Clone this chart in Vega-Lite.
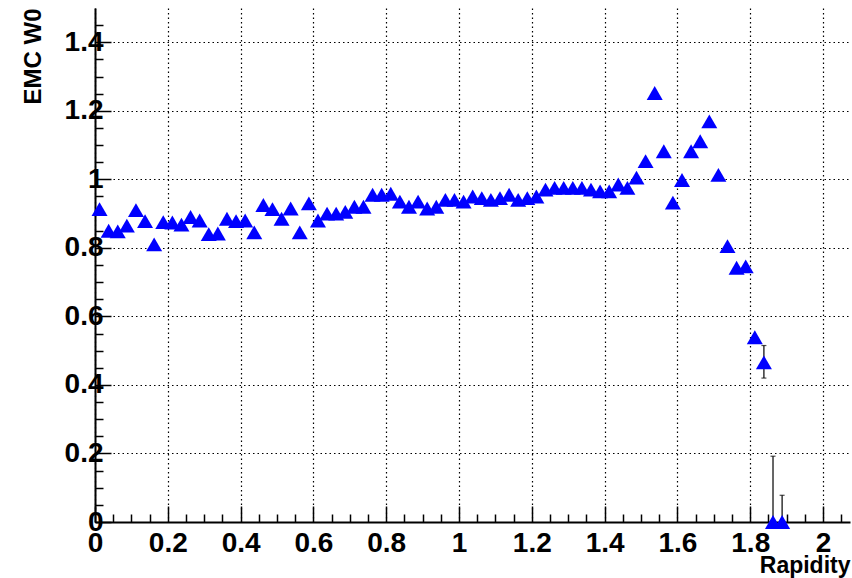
{
  "$schema": "https://vega.github.io/schema/vega-lite/v6.json",
  "width": 755,
  "height": 514,
  "autosize": {"type": "none"},
  "padding": {"left": 95, "top": 8, "right": 2, "bottom": 56},
  "background": "white",
  "config": {"view": {"stroke": null}},
  "data": {"values": [
    {"x": 0.0125, "y": 0.913}, {"x": 0.0375, "y": 0.85}, {"x": 0.0625, "y": 0.848}, {"x": 0.0875, "y": 0.865},
    {"x": 0.1125, "y": 0.91}, {"x": 0.1375, "y": 0.878}, {"x": 0.1625, "y": 0.81}, {"x": 0.1875, "y": 0.875},
    {"x": 0.2125, "y": 0.874}, {"x": 0.2375, "y": 0.868}, {"x": 0.2625, "y": 0.89}, {"x": 0.2875, "y": 0.88},
    {"x": 0.3125, "y": 0.84}, {"x": 0.3375, "y": 0.842}, {"x": 0.3625, "y": 0.885}, {"x": 0.3875, "y": 0.878},
    {"x": 0.4125, "y": 0.88}, {"x": 0.4375, "y": 0.845}, {"x": 0.4625, "y": 0.925}, {"x": 0.4875, "y": 0.913},
    {"x": 0.5125, "y": 0.885}, {"x": 0.5375, "y": 0.915}, {"x": 0.5625, "y": 0.845}, {"x": 0.5875, "y": 0.93},
    {"x": 0.6125, "y": 0.88}, {"x": 0.6375, "y": 0.9}, {"x": 0.6625, "y": 0.9}, {"x": 0.6875, "y": 0.905},
    {"x": 0.7125, "y": 0.92}, {"x": 0.7375, "y": 0.92}, {"x": 0.7625, "y": 0.955}, {"x": 0.7875, "y": 0.955},
    {"x": 0.8125, "y": 0.958}, {"x": 0.8375, "y": 0.935}, {"x": 0.8625, "y": 0.92}, {"x": 0.8875, "y": 0.935},
    {"x": 0.9125, "y": 0.915}, {"x": 0.9375, "y": 0.92}, {"x": 0.9625, "y": 0.94}, {"x": 0.9875, "y": 0.94},
    {"x": 1.0125, "y": 0.935}, {"x": 1.0375, "y": 0.95}, {"x": 1.0625, "y": 0.945}, {"x": 1.0875, "y": 0.94},
    {"x": 1.1125, "y": 0.945}, {"x": 1.1375, "y": 0.955}, {"x": 1.1625, "y": 0.94}, {"x": 1.1875, "y": 0.945},
    {"x": 1.2125, "y": 0.95}, {"x": 1.2375, "y": 0.97}, {"x": 1.2625, "y": 0.975}, {"x": 1.2875, "y": 0.975},
    {"x": 1.3125, "y": 0.975}, {"x": 1.3375, "y": 0.975}, {"x": 1.3625, "y": 0.97}, {"x": 1.3875, "y": 0.965},
    {"x": 1.4125, "y": 0.965}, {"x": 1.4375, "y": 0.985}, {"x": 1.4625, "y": 0.975}, {"x": 1.4875, "y": 1.005},
    {"x": 1.5125, "y": 1.053}, {"x": 1.5375, "y": 1.252}, {"x": 1.5625, "y": 1.082}, {"x": 1.5875, "y": 0.932},
    {"x": 1.6125, "y": 0.998}, {"x": 1.6375, "y": 1.082}, {"x": 1.6625, "y": 1.111}, {"x": 1.6875, "y": 1.169},
    {"x": 1.7125, "y": 1.013}, {"x": 1.7375, "y": 0.805}, {"x": 1.7625, "y": 0.742}, {"x": 1.7875, "y": 0.746},
    {"x": 1.8125, "y": 0.539}, {"x": 1.8375, "y": 0.466, "lo": 0.42, "hi": 0.515},
    {"x": 1.8625, "y": 0, "lo": 0, "hi": 0.192}, {"x": 1.8875, "y": 0, "lo": 0, "hi": 0.078}
  ]},
  "encoding": {
    "x": {
      "field": "x", "type": "quantitative",
      "scale": {"domain": [0, 2.074], "nice": false, "zero": false},
      "axis": {
        "values": [0,0.05,0.1,0.15,0.2,0.25,0.3,0.35,0.4,0.45,0.5,0.55,0.6,0.65,0.7,0.75,0.8,0.85,0.9,0.95,1,1.05,1.1,1.15,1.2,1.25,1.3,1.35,1.4,1.45,1.5,1.55,1.6,1.65,1.7,1.75,1.8,1.85,1.9,1.95,2,2.05],
        "labelExpr": "round(datum.value*20)%4==0 ? format(datum.value,'.1~f') : ''",
        "labelOverlap": false, "labelFlush": false,
        "labelFont": "Liberation Sans, Arial, sans-serif",
        "labelFontSize": 28, "labelFontWeight": "bold", "labelColor": "black",
        "labelPadding": 23,
        "domainColor": "black", "domainWidth": 2,
        "tickColor": "black", "tickWidth": 1.5,
        "tickSize": {"condition": {"test": "round(datum.value*20)%4==0", "value": -16}, "value": -8},
        "grid": true, "gridColor": "black", "gridDash": [1.5, 3], "gridWidth": 1.2,
        "gridOpacity": {"condition": {"test": "round(datum.value*20)%4==0", "value": 1}, "value": 0},
        "title": "Rapidity",
        "titleFont": "Liberation Sans, Arial, sans-serif",
        "titleFontSize": 23, "titleFontWeight": "bold", "titleColor": "black",
        "titleAlign": "right", "titleBaseline": "alphabetic",
        "titleX": 755, "titleY": 50
      }
    },
    "y": {
      "field": "y", "type": "quantitative",
      "scale": {"domain": [0, 1.5], "nice": false, "zero": false},
      "axis": {
        "values": [0,0.05,0.1,0.15,0.2,0.25,0.3,0.35,0.4,0.45,0.5,0.55,0.6,0.65,0.7,0.75,0.8,0.85,0.9,0.95,1,1.05,1.1,1.15,1.2,1.25,1.3,1.35,1.4,1.45],
        "labelExpr": "round(datum.value*20)%4==0 ? format(datum.value,'.1~f') : ''",
        "labelOverlap": false, "labelFlush": false,
        "labelFont": "Liberation Sans, Arial, sans-serif",
        "labelFontSize": 28, "labelFontWeight": "bold", "labelColor": "black",
        "labelPadding": 8,
        "domainColor": "black", "domainWidth": 2,
        "tickColor": "black", "tickWidth": 1.5,
        "tickSize": {"condition": {"test": "round(datum.value*20)%4==0", "value": -16}, "value": -8},
        "grid": true, "gridColor": "black", "gridDash": [1.5, 3], "gridWidth": 1.2,
        "gridOpacity": {"condition": {"test": "round(datum.value*20)%4==0", "value": 1}, "value": 0},
        "title": "EMC W0",
        "titleFont": "Liberation Sans, Arial, sans-serif",
        "titleFontSize": 24, "titleFontWeight": "bold", "titleColor": "black",
        "titleAngle": 270, "titleAlign": "right", "titleBaseline": "middle",
        "titleX": -62, "titleY": 0
      }
    }
  },
  "layer": [
    {
      "transform": [{"filter": "isValid(datum.hi)"}],
      "mark": {"type": "rule", "color": "black", "strokeWidth": 1.2, "clip": true},
      "encoding": {"y": {"field": "lo", "type": "quantitative"}, "y2": {"field": "hi"}}
    },
    {
      "transform": [{"filter": "isValid(datum.hi)"}],
      "mark": {"type": "tick", "orient": "horizontal", "size": 5, "thickness": 1.2, "color": "black"},
      "encoding": {"y": {"field": "hi", "type": "quantitative"}}
    },
    {
      "transform": [{"filter": "isValid(datum.lo) && datum.lo > 0"}],
      "mark": {"type": "tick", "orient": "horizontal", "size": 5, "thickness": 1.2, "color": "black"},
      "encoding": {"y": {"field": "lo", "type": "quantitative"}}
    },
    {
      "mark": {"type": "point", "shape": "triangle-up", "filled": true, "size": 256, "color": "#0000ff", "opacity": 1, "clip": false},
      "encoding": {}
    }
  ]
}
